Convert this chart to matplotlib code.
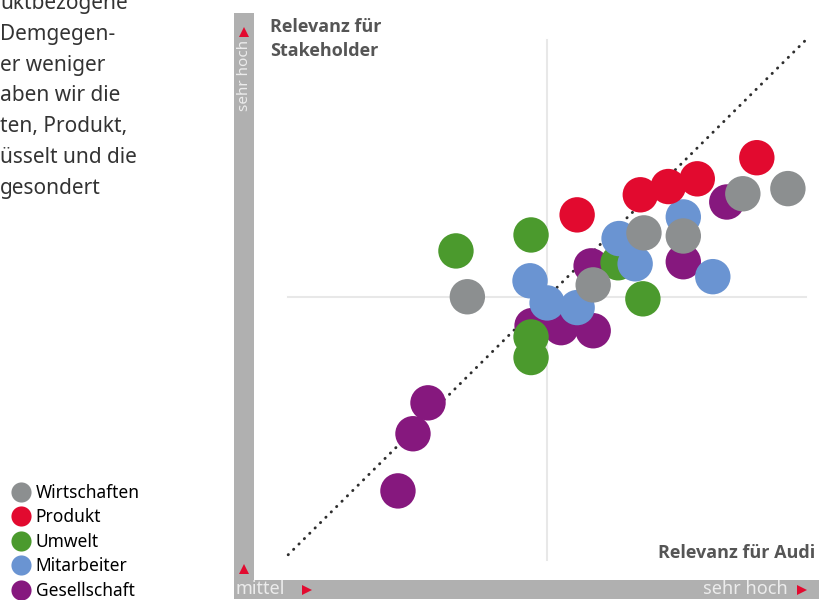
import matplotlib
matplotlib.use("Agg")
import matplotlib.pyplot as plt
from matplotlib.lines import Line2D

# values on a 0..10 scale (Relevanz für Audi / Relevanz für Stakeholder)
wirtschaften_x = [3.46, 5.89, 6.87, 7.63, 8.78, 9.65]
wirtschaften_y = [5.01, 5.24, 6.25, 6.19, 7.01, 7.11]
produkt_x = [5.58, 6.80, 7.34, 7.90, 9.05]
produkt_y = [6.60, 6.99, 7.15, 7.30, 7.71]
umwelt_x = [3.24, 4.69, 6.37, 6.85, 4.69, 4.69]
umwelt_y = [5.90, 6.21, 5.67, 4.97, 4.23, 3.83]
mitarbeiter_x = [4.67, 5.00, 5.58, 6.39, 6.70, 7.63, 8.20]
mitarbeiter_y = [5.32, 4.89, 4.80, 6.14, 5.65, 6.56, 5.40]
gesellschaft_x = [2.12, 2.41, 2.70, 4.71, 5.27, 5.89, 5.85, 7.63, 8.47]
gesellschaft_y = [1.24, 2.35, 2.95, 4.45, 4.41, 4.35, 5.61, 5.69, 6.85]

categories = ["Wirtschaften", "Produkt", "Umwelt", "Mitarbeiter", "Gesellschaft"]
colors = ["#8c8f90", "#e20a2f", "#4b9a2d", "#6a94d2", "#86187e"]

body_lines = ["uktbezogene", "Demgegen-", "er weniger", "aben wir die",
              "ten, Produkt,", "üsselt und die", "gesondert"]

W, H = 820, 600
fig = plt.figure(figsize=(8.2, 6), dpi=100)
plt.rcParams["font.family"] = ["Noto Sans", "DejaVu Sans"]

# overlay in pixel coordinates for the frame bars and text
ov = fig.add_axes([0, 0, 1, 1], zorder=0)
ov.set_xlim(0, W)
ov.set_ylim(H, 0)
ov.axis("off")

bar_col = "#b0b0b0"
red = "#e20a2f"
ov.add_patch(plt.Rectangle((234, 13), 20, 567, color=bar_col, lw=0))
ov.add_patch(plt.Rectangle((234, 580), 586, 19, color=bar_col, lw=0))
ov.plot(244, 32, marker="^", color=red, ms=6.5, mew=0)
ov.plot(244, 569, marker="^", color=red, ms=6.5, mew=0)
ov.plot(307, 590, marker=">", color=red, ms=6.5, mew=0)
ov.plot(802, 590, marker=">", color=red, ms=6.5, mew=0)
ov.text(245, 111, "sehr hoch", rotation=90, ha="center", va="bottom",
        color="#ececec", fontsize=11)
ov.text(236, 589, "mittel", ha="left", va="center", color="#ececec", fontsize=13)
ov.text(788, 589, "sehr hoch", ha="right", va="center", color="#ececec", fontsize=13)

lab_font = ["Open Sans", "DejaVu Sans"]
ov.text(270, 18, "Relevanz für\nStakeholder", ha="left", va="top", family=lab_font,
        color="#555555", fontsize=13, fontweight="bold", linespacing=1.45)
ov.text(815, 553, "Relevanz für Audi", ha="right", va="center", family=lab_font,
        color="#555555", fontsize=13, fontweight="bold")

for i, line in enumerate(body_lines):
    ov.text(0, 9 + i * 30.8, line, ha="left", va="baseline",
            color="#333333", fontsize=15)

# main chart area
ax = fig.add_axes([254 / W, 20 / H, 566 / W, 567 / H], zorder=1)
ax.patch.set_alpha(0)
ax.set_xlim(-0.66, 10.27)
ax.set_ylim(-0.49, 10.52)
ax.axis("off")

ax.plot([0, 10], [5, 5], color="#e8e8e8", lw=1.5, zorder=1)
ax.plot([5, 5], [-0.1, 10], color="#e8e8e8", lw=1.5, zorder=1)
ax.plot([0, 10], [0, 10], color="#2e2e2e", lw=2.1,
        linestyle=(0, (0.1, 2.5)), dash_capstyle="round", zorder=2)

series = [
    (wirtschaften_x, wirtschaften_y, 6),
    (produkt_x, produkt_y, 7),
    (umwelt_x, umwelt_y, 4),
    (mitarbeiter_x, mitarbeiter_y, 5),
    (gesellschaft_x, gesellschaft_y, 3),
]
for (xs, ys, z), c in zip(series, colors):
    ax.scatter(xs, ys, s=650, color=c, edgecolors="none", zorder=z)

handles = [Line2D([], [], marker="o", ls="", color=c, ms=14.5, mew=0) for c in colors]
fig.legend(handles, categories, loc="lower left", bbox_to_anchor=(0.015, 0.0),
           frameon=False, fontsize=12.5, handlelength=1.0, handletextpad=0.35,
           labelspacing=0.38, borderpad=0, borderaxespad=0)

fig.savefig("out.png", dpi=100)
